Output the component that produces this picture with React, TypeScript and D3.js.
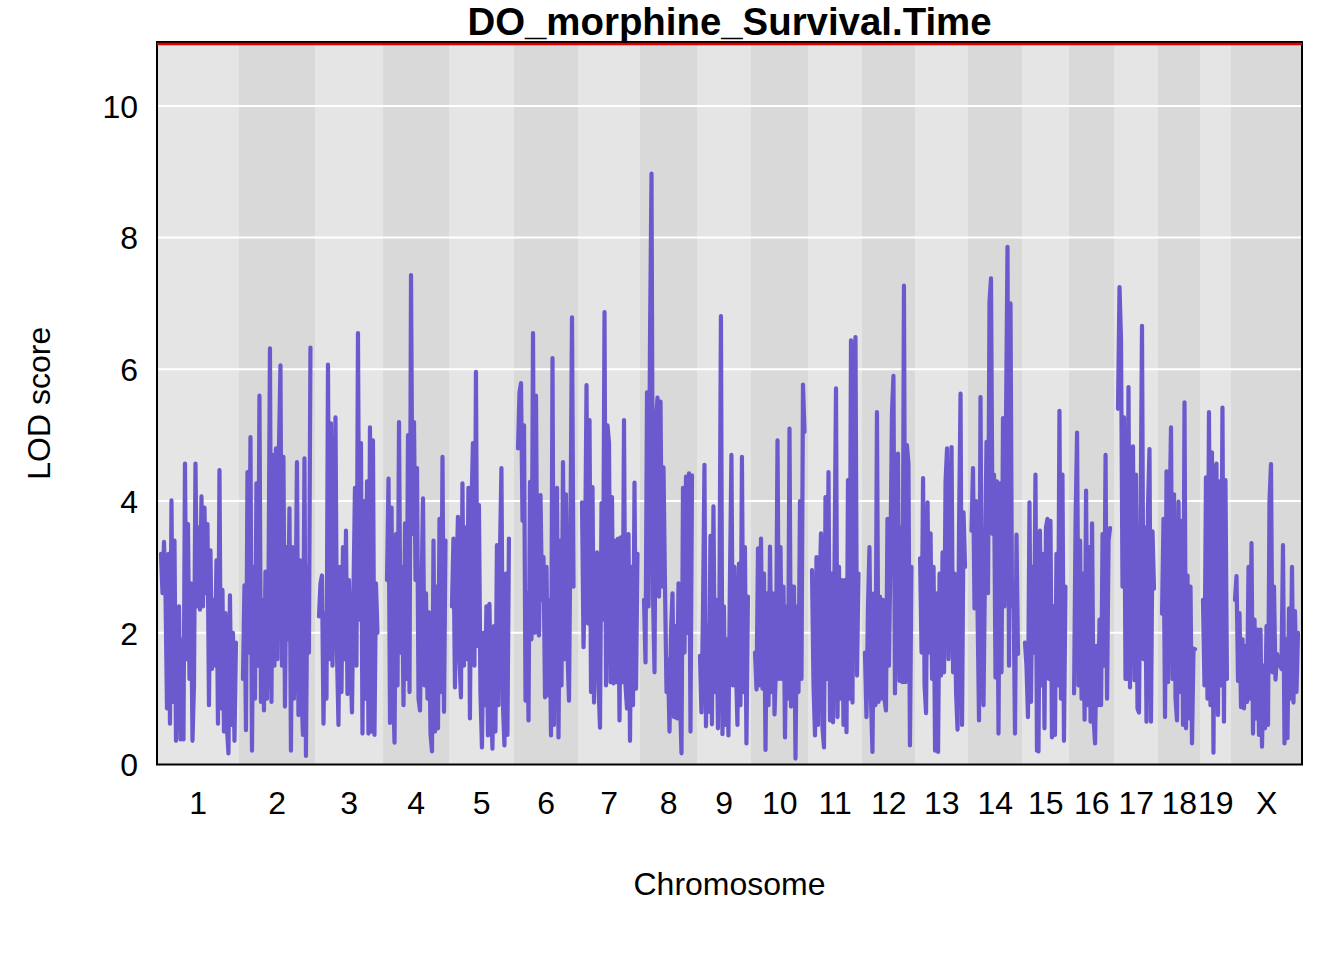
import { useEffect, useRef } from 'react'
import * as d3 from 'd3'

const chromosomes = ['1', '2', '3', '4', '5', '6', '7', '8', '9', '10', '11', '12', '13', '14', '15', '16', '17', '18', '19', 'X']

// size of each chromosome band, Mb
const chrSizes = [195.2, 181, 162, 157.1, 154.8, 152.4, 147.6, 135.7, 128.6, 135.7, 128.6, 126.2, 126.2, 128.6, 111.9, 107.1, 104.8, 100, 73.8, 169]
// position of the first marker inside its band, Mb
const firstMarker = [9.5, 9.5, 9.5, 9.5, 7, 9.5, 9.5, 9.5, 7, 9.5, 9.5, 7, 12, 8.3, 7, 12, 9.5, 9.5, 7, 9.5]
const markerStep = 3.57

const lod1 = [3.2, 2.6, 3.38, 2.6, 0.85, 3.2, 0.62, 4.01, 0.95, 3.4, 0.36, 1.9, 2.4, 0.38, 1.9, 0.38, 4.57, 1.6, 3.65, 1.3, 2.75, 0.36, 1.2, 4.57, 2.4, 3.6, 2.35, 4.07, 2.4, 3.9, 2.6, 3.65, 0.9, 3.25, 1.45, 2.5, 1.5, 3.1, 0.62, 4.47, 0.85, 2.65, 0.5, 2.3, 0.55, 0.17, 2.57, 0.6, 2.0, 0.36, 1.85]
const lod2 = [1.3, 2.72, 0.52, 4.44, 1.7, 4.97, 0.21, 3.0, 1.0, 4.27, 1.5, 5.6, 0.95, 2.5, 0.82, 2.93, 1.0, 2.6, 6.32, 0.95, 4.7, 1.5, 4.8, 1.6, 4.8, 6.06, 1.5, 4.67, 0.88, 3.3, 1.9, 3.89, 0.21, 3.3, 1.0, 2.0, 4.59, 0.75, 3.1, 1.1, 0.45, 4.65, 0.13, 3.0, 1.7, 6.33]
const lod3 = [2.25, 2.75, 2.87, 0.62, 2.3, 1.0, 6.07, 1.6, 5.18, 1.5, 3.0, 5.27, 1.7, 0.6, 3.0, 1.1, 3.3, 1.6, 3.55, 1.07, 2.8, 1.6, 0.79, 2.6, 4.2, 1.5, 6.55, 2.2, 4.88, 0.47, 4.0, 1.0, 4.3, 0.47, 5.12, 0.5, 4.92, 0.45, 2.75, 2.0]
const lod4 = [2.8, 4.34, 0.63, 3.9, 1.3, 0.33, 3.5, 1.2, 5.2, 1.7, 3.0, 0.9, 3.66, 1.3, 5.0, 1.1, 7.43, 3.5, 5.2, 2.8, 4.5, 1.0, 0.82, 2.6, 4.04, 1.2, 2.6, 1.0, 2.31, 0.47, 0.2, 3.4, 0.5, 2.7, 0.55, 3.73, 1.1, 4.67, 0.8, 3.4]
const lod5 = [2.4, 3.43, 1.17, 2.8, 3.76, 1.6, 1.02, 4.27, 1.5, 3.6, 1.6, 4.2, 0.7, 3.9, 4.88, 1.5, 5.96, 1.8, 3.94, 1.1, 0.26, 2.0, 0.9, 2.4, 0.44, 2.44, 1.0, 0.24, 2.1, 0.5, 3.33, 0.9, 3.2, 4.5, 0.9, 0.29, 2.9, 0.45, 3.43]
const lod6 = [4.8, 5.65, 5.79, 3.7, 5.15, 0.97, 2.6, 0.67, 4.29, 1.9, 6.55, 2.0, 5.6, 2.05, 1.96, 4.09, 2.5, 3.15, 1.02, 3.0, 1.05, 2.5, 0.44, 6.17, 0.6, 4.1, 4.2, 0.41, 3.4, 1.2, 4.59, 1.6, 4.1, 1.7, 0.97, 3.6, 6.79, 2.7]
const lod7 = [3.98, 1.78, 3.0, 5.76, 2.14, 5.23, 1.1, 4.21, 0.94, 3.1, 3.22, 1.2, 0.56, 3.97, 2.2, 6.87, 1.2, 5.15, 4.88, 1.25, 4.06, 1.23, 3.4, 1.25, 3.43, 0.67, 3.45, 1.25, 5.23, 1.2, 0.85, 3.5, 0.36, 3.0, 0.9, 4.28, 1.15, 3.2]
const lod8 = [2.5, 1.55, 5.65, 2.4, 6.45, 8.97, 2.55, 1.4, 5.25, 5.57, 2.55, 5.51, 2.7, 4.51, 2.7, 1.1, 1.6, 0.5, 2.0, 2.6, 0.72, 2.1, 0.7, 2.75, 1.0, 0.17, 4.2, 1.7, 4.37, 2.0, 4.42, 0.5, 4.39]
const lod9 = [1.65, 0.79, 2.3, 4.55, 0.58, 2.1, 0.8, 3.47, 0.61, 3.92, 1.1, 2.5, 0.55, 2.5, 6.81, 0.46, 2.4, 0.6, 1.9, 0.44, 2.81, 4.7, 1.2, 3.0, 1.5, 0.6, 3.05, 0.9, 4.67, 1.1, 3.3, 0.32, 2.55]
const lod10 = [1.7, 1.14, 3.28, 1.2, 3.43, 1.15, 2.9, 0.22, 2.6, 0.9, 3.31, 1.1, 2.6, 0.76, 1.5, 4.92, 1.3, 3.3, 1.3, 2.7, 0.41, 2.4, 1.0, 5.1, 0.88, 2.7, 2.7, 0.09, 2.4, 1.1, 4.0, 1.3, 5.77, 5.05]
const lod11 = [2.95, 1.2, 0.44, 3.15, 0.6, 2.6, 3.51, 0.55, 0.26, 4.06, 1.3, 4.44, 0.67, 2.9, 0.64, 3.0, 5.71, 0.72, 3.0, 1.0, 2.8, 0.6, 2.8, 0.49, 4.32, 1.0, 6.44, 0.94, 6.0, 6.49, 1.35, 2.9]
const lod12 = [1.7, 0.72, 2.39, 3.3, 1.0, 0.19, 2.6, 0.9, 5.35, 0.95, 2.55, 1.0, 2.5, 1.0, 0.82, 3.73, 1.5, 3.2, 5.33, 5.9, 1.08, 3.6, 4.72, 1.27, 3.6, 1.25, 7.27, 1.25, 4.85, 4.57, 0.29, 3.0]
const lod13 = [3.13, 1.7, 4.35, 1.2, 0.78, 3.98, 1.7, 3.51, 1.3, 3.0, 0.21, 2.6, 0.19, 2.9, 1.35, 3.22, 1.4, 4.3, 4.8, 1.6, 2.9, 4.82, 1.4, 2.9, 1.1, 0.53, 3.6, 5.63, 0.6, 3.83, 3.0]
const lod14 = [3.55, 4.5, 2.37, 4.0, 2.4, 0.67, 5.58, 1.5, 0.9, 3.0, 4.9, 2.6, 7.03, 7.38, 3.5, 4.4, 1.32, 4.3, 0.47, 4.27, 1.4, 5.26, 2.4, 5.2, 7.86, 1.5, 7.0, 2.4, 2.7, 0.47, 3.49, 1.68]
const lod15 = [1.85, 1.5, 0.72, 3.98, 0.95, 3.0, 1.7, 4.4, 0.21, 0.2, 3.55, 1.2, 3.2, 0.55, 3.6, 3.73, 1.3, 3.7, 0.41, 2.4, 0.45, 3.2, 1.2, 5.37, 1.0, 4.4, 0.36, 2.7]
const lod16 = [1.08, 3.7, 5.04, 1.2, 3.4, 1.0, 2.9, 0.68, 4.16, 0.9, 3.3, 0.65, 3.66, 0.7, 0.32, 1.8, 0.9, 2.2, 0.9, 3.5, 1.5, 4.7, 1.0, 3.4, 3.59]
const lod17 = [5.4, 7.25, 6.46, 2.7, 5.27, 1.3, 1.3, 5.73, 1.17, 4.45, 4.83, 1.28, 4.4, 0.85, 0.79, 3.5, 6.66, 1.6, 3.6, 0.65, 3.9, 4.79, 0.65, 3.54, 2.67]
const lod18 = [2.29, 3.73, 0.72, 4.45, 1.25, 3.7, 5.12, 1.3, 4.1, 1.0, 0.67, 3.99, 1.1, 3.7, 0.6, 5.5, 0.55, 2.87, 0.7, 2.7, 0.32, 1.76, 1.75]
const lod19 = [2.5, 1.2, 4.36, 1.0, 5.35, 0.9, 4.74, 0.18, 4.4, 4.57, 0.75, 4.3, 1.2, 5.42, 0.65, 4.32, 1.3]
const lodX = [2.5, 2.86, 1.27, 2.3, 0.87, 1.9, 0.85, 1.8, 0.95, 3.0, 1.0, 3.36, 0.47, 2.2, 0.7, 2.05, 0.45, 2.05, 0.27, 1.5, 0.55, 2.1, 0.6, 4.0, 4.56, 1.4, 2.7, 1.29, 1.68, 1.6, 1.5, 1.45, 3.33, 0.32, 1.9, 0.4, 2.37, 1.0, 3.0, 0.94, 2.33, 1.1, 2.0]

const lodByChr = [lod1, lod2, lod3, lod4, lod5, lod6, lod7, lod8, lod9, lod10, lod11, lod12, lod13, lod14, lod15, lod16, lod17, lod18, lod19, lodX]

const lodTicks = [0, 2, 4, 6, 8, 10]
const lodTop = 10.97
const threshold = 10.94

const font = '"Liberation Sans", Arial, sans-serif'
const plot = { left: 157, right: 1302, top: 42, bottom: 764.5 }

const App = () => {
  const svgRef = useRef<SVGSVGElement | null>(null)

  useEffect(() => {
    if (!svgRef.current) return

    const svg = d3.select(svgRef.current)
    svg.selectAll('*').remove()

    const starts = d3.cumsum([0, ...chrSizes.slice(0, -1)])
    const x = d3.scaleLinear().domain([0, d3.sum(chrSizes)]).range([plot.left, plot.right])
    const y = d3.scaleLinear().domain([0, lodTop]).range([plot.bottom, plot.top])

    // Chromosome bands
    svg.append('g')
      .selectAll('rect')
      .data(chrSizes)
      .enter()
      .append('rect')
      .attr('x', (_, i) => x(starts[i]))
      .attr('y', plot.top)
      .attr('width', (d, i) => x(starts[i] + d) - x(starts[i]))
      .attr('height', plot.bottom - plot.top)
      .attr('fill', (_, i) => (i % 2 === 0 ? '#E5E5E5' : '#D9D9D9'))

    // Grid lines
    svg.append('g')
      .selectAll('line')
      .data(lodTicks.slice(1))
      .enter()
      .append('line')
      .attr('x1', plot.left)
      .attr('x2', plot.right)
      .attr('y1', d => y(d))
      .attr('y2', d => y(d))
      .attr('stroke', '#fff')
      .attr('stroke-width', 2)

    // LOD curve, one path per chromosome
    lodByChr.forEach((values, c) => {
      const line = d3.line<number>()
        .x((_, i) => x(starts[c] + firstMarker[c] + i * markerStep))
        .y(d => y(d))

      svg.append('path')
        .datum(values)
        .attr('fill', 'none')
        .attr('stroke', '#6A5ACD')
        .attr('stroke-width', 4.2)
        .attr('stroke-linejoin', 'round')
        .attr('stroke-linecap', 'round')
        .attr('d', line)
    })

    // Box
    svg.append('rect')
      .attr('x', plot.left)
      .attr('y', plot.top)
      .attr('width', plot.right - plot.left)
      .attr('height', plot.bottom - plot.top)
      .attr('fill', 'none')
      .attr('stroke', '#000')
      .attr('stroke-width', 2)

    // Threshold line
    svg.append('line')
      .attr('x1', plot.left)
      .attr('x2', plot.right)
      .attr('y1', y(threshold))
      .attr('y2', y(threshold))
      .attr('stroke', '#E00000')
      .attr('stroke-width', 2.4)

    // Axes
    const mids = chrSizes.map((d, i) => starts[i] + d / 2)
    const xAxis = svg.append('g')
      .attr('transform', `translate(-0.3,${plot.bottom})`)
      .call(d3.axisBottom(x).tickValues(mids).tickSize(0).tickPadding(27).tickFormat((_, i) => chromosomes[i]))
    const yAxis = svg.append('g')
      .attr('transform', `translate(${plot.left},1)`)
      .call(d3.axisLeft(y).tickValues(lodTicks).tickSize(0).tickPadding(19))

    ;[xAxis, yAxis].forEach(axis => {
      axis.select('.domain').remove()
      axis.selectAll('text').attr('fill', '#000').style('font-family', font).style('font-size', '32px')
    })

    // Labels
    svg.append('text')
      .attr('x', (plot.left + plot.right) / 2)
      .attr('y', 35)
      .attr('text-anchor', 'middle')
      .style('font-family', font)
      .style('font-size', '38.4px')
      .style('font-weight', 'bold')
      .text('DO_morphine_Survival.Time')

    svg.append('text')
      .attr('x', (plot.left + plot.right) / 2)
      .attr('y', 895)
      .attr('text-anchor', 'middle')
      .style('font-family', font)
      .style('font-size', '32px')
      .text('Chromosome')

    svg.append('text')
      .attr('transform', `translate(50,${(plot.top + plot.bottom) / 2}) rotate(-90)`)
      .attr('text-anchor', 'middle')
      .style('font-family', font)
      .style('font-size', '32px')
      .text('LOD score')
  }, [])

  return (
    <svg
      ref={svgRef}
      width={1344}
      height={960}
      style={{ position: 'absolute', left: 0, top: 0, display: 'block', background: '#fff' }}
    />
  )
}

export default App
